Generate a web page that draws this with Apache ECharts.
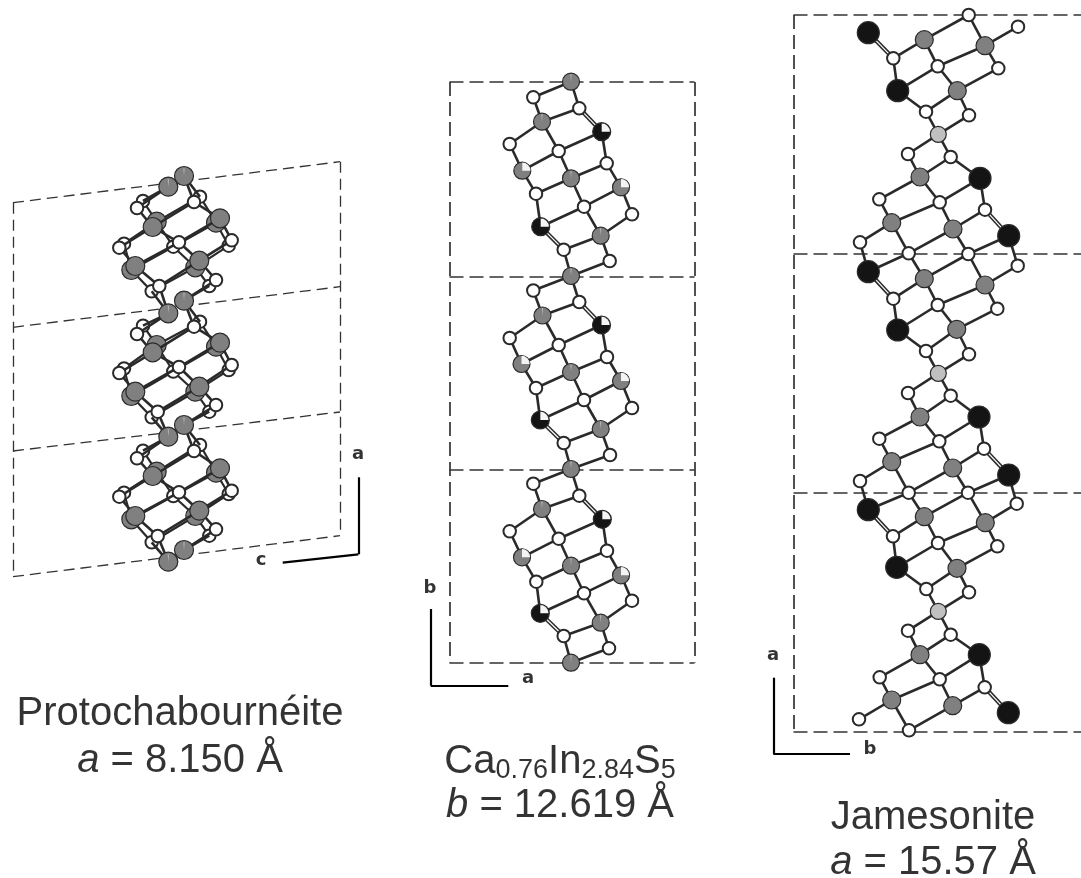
<!DOCTYPE html>
<html><head><meta charset="utf-8">
<style>html,body{margin:0;padding:0;background:#fff}#c{width:1081px;height:878px}</style>
<script src="https://cdn.jsdelivr.net/npm/echarts@6/dist/echarts.min.js"></script>
</head><body><div id="c"></div>
<script>
// ---------- Atom positions (one list per repeat) ----------
const protoKinds = ['T','W','W','G','G','W','W','W','G','G','W','W', 'T','W','W','G','G','W','W','W','G','G','W','W'];
const protoCell1 = [[168.3,186.7],[137,208],[194,202],[152.7,227],[220,218.3],[231.7,240.3],[179,242.3],[119.3,247.7],[135.3,266],[199.3,260.7],[216,280],[159.3,286],
  [184,176],[143,201],[200,196.7],[156.7,221.7],[216,222.7],[228.7,245.7],[173.3,246.7],[124,243.7],[131.3,270],[195.3,267.3],[209.3,286],[151.7,291.3]];
const protoCell2 = [[168.3,313.3],[137,334],[194,326.7],[152.7,352.3],[220,342.7],[231.7,365],[179,367],[119.3,373],[135.3,391.7],[199.3,386.7],[216,405],[157.7,411.7],
  [184,300.7],[143,325.7],[200,321.7],[156.7,345],[216,346.7],[228.7,370],[173.3,371.5],[124,368.5],[131.3,396],[195.3,391.7],[209.3,411.7],[151.7,417.3]];
const protoCell3 = [[168.3,436.7],[137,458.3],[194,451],[152.7,476],[220,468.3],[231.7,490.7],[179,492.3],[119.3,496.7],[135.3,516],[199.3,510.7],[216,529.3],[157.7,536],
  [184,425],[143,450.7],[200,445],[156.7,471.7],[216,472.7],[228.7,494],[173.3,496],[124,492.7],[131.3,519.3],[195.3,516],[209.3,535.7],[151.7,542.3]];
const protoEnd = [[168.3,561.7],[184,550]];
const protoLayerBonds = [[3,1],[3,2],[3,7],[3,6],[4,2],[4,5],[4,6],[7,8],[6,8],[6,9],[5,9],[8,11],[9,11],[9,10]];

const midKinds = ['t','W','W','t','HB','W','W','W','HG','t','HG','W','W','W','HB','t','W','W'];
const midCell1 = [[571,81.7],[533.3,97.3],[579.3,108.3],[542,121.7],[601.7,131.7],[509.7,144],[558.7,151],[606.7,163.3],[522.3,170.7],[571,178.3],[621,187.3],[536,193.7],[584,206.7],[632,214.3],[540.7,226.7],[600.7,235.7],[563.7,249.7],[609.7,261]];
const midCell2 = [[571,276],[533.3,290.5],[579.3,302],[542.5,315.5],[601.5,325],[509.7,338],[558.7,345],[607,357],[521.5,364],[571,372],[621,381],[536,388],[584,400],[632,408],[540.3,420],[600.7,429],[563.7,443],[610,455]];
const midCell3 = [[571,469],[533.3,483.7],[579.3,495.7],[542,509],[602.3,519.3],[509.7,531.3],[558.7,538.7],[607,550.7],[522,557.3],[571,565.7],[621,575.3],[536.3,581.7],[584,593.3],[632,600.7],[540.3,613.3],[600.7,622.7],[563.7,636],[609,648.3]];
const midEnd = [[571,662.7]];
const midBonds = [[0,1],[0,2],[1,3],[2,3],[3,5],[3,6],[4,6],[4,7],[5,8],[8,6],[6,9],[9,7],[7,10],[9,11],[8,11],[11,14],[9,12],[10,12],[10,13],[14,12],[12,15],[13,15],[15,16],[15,17]];
const midDouble = [[2,4],[14,16]];
const midLinks = [[16,0],[17,0]];

const jamKinds = ['B','G','W','W','G','W','W','W','B','G','W','W','L','W','W','G','B','W','W','W','G','G','B','W','W'];
const jamCell1 = [[868.3,32.7],[924.3,39.7],[968.7,15],[1018,26.7],[985,45.7],[893.3,58.3],[937.7,66.3],[998.3,68.3],[897.7,90.7],[957.3,90.7],[926,111.7],[969,115.3],[938.3,134.3],[908,154],[950.7,157],[920,177],[980,178.3],[879.3,199.3],[939.7,202.3],[985,209.7],[891.7,222.7],[953,229],[1008.7,235.7],[860,242.3],[908.7,253.3]];
const jamCell2 = [[868.3,271.7],[924.3,278.7],[968.3,254],[1017.7,265.7],[985,285],[893.3,298.7],[937.7,305],[997.3,308.7],[897.7,330],[956.7,329.3],[926,351],[969,354.3],[938.3,373.3],[908,393],[950.7,395.7],[920,417],[979,417],[879.3,438.7],[939.3,441.3],[984,448.7],[891.7,461.7],[952.7,468],[1008.7,475],[860,481],[908.7,492.7]];
const jamCell3 = [[868.3,509.7],[924.3,516.7],[968,492.7],[1016.7,503.7],[985.3,522.7],[893,536.3],[938,543],[997.3,546.3],[896.7,567.3],[957,568.3],[926.3,589],[969,592.3],[938.3,611.3],[908,630.7],[950.7,634.7],[920,654.7],[979.3,654.7],[879.7,677.3],[939.7,679.3],[984.7,687.3],[891.7,700],[952.7,705.7],[1008.3,712.7],[859,719.3],[909,730.3]];
const jamBonds = [[1,2],[4,2],[4,3],[1,5],[1,6],[4,6],[4,7],[5,8],[6,8],[6,9],[7,9],[8,10],[9,10],[9,11],[10,12],[11,12],[12,13],[12,14],[13,15],[14,15],[14,16],[15,17],[15,18],[16,18],[16,19],[17,20],[18,20],[18,21],[19,21],[20,23],[20,24],[21,24]];
const jamDouble = [[0,5],[19,22]];
const jamLinks = [[23,0],[24,0],[24,1],[22,3],[21,2],[22,2]];

// ---------- Unit-cell frames and the axis triads ----------
const protoFrame = [[[13,202.7],[340,161.7]],[[13,327.3],[340,286.7]],[[13,451],[340,412]],[[13,576.7],[340,535.7]],[[13,202.7],[13,576.7]],[[340,161.7],[340,535.7]]];
const midFrame = [[[449.5,82],[694.5,82]],[[449.5,276.5],[694.5,276.5]],[[449.5,470],[694.5,470]],[[449.5,662.5],[694.5,662.5]],[[449.5,82],[449.5,662.5]],[[694.5,82],[694.5,662.5]]];
const jamFrame = [[[793.5,15],[1081,15]],[[793.5,254],[1081,254]],[[793.5,493],[1081,493]],[[793.5,732],[1081,732]],[[793.5,15],[793.5,732]]];
const triads = [[[358.3,477.3],[358.3,554.3],[282.7,562.7]],[[430.7,609],[430.7,685.7],[508.3,685.7]],[[773.3,677.7],[773.3,754],[850,754]]];

// ---------- Text ----------
const axisLetters = [['a',358,454],['c',261,560],['b',430,588],['a',528,678],['a',773,655],['b',870,749]];
const captions = [
  ['Protochabournéite',180,714],
  ['{i|a} = 8.150 Å',180,761],
  ['Ca{s|0.76}In{s|2.84}S{s|5}',560,762],
  ['{i|b} = 12.619 Å',560,806],
  ['Jamesonite',933,818],
  ['{i|a} = 15.57 Å',933,863]
];

// ---------- Assemble ----------
const backBonds=[], frontBonds=[], doubleBonds=[];
const backAtoms=[], atoms=[], whites=[], wedges=[], ticks=[];
const seg=(a,b)=>({coords:[a,b]});
const FILL={G:'#808080',B:'#141414',L:'#c0c0c0',W:'#fff'};
const SIZE={proto:{G:19,W:12.5},mid:{G:17,W:12.5,B:18},jam:{G:18,W:12.5,B:22,L:16}};
function put(p,k,back,panel){
  const base = (k==='T'||k==='t'||k==='HG')?'G':(k==='HB'?'B':k);
  const item={value:[p[0],p[1]],symbolSize:SIZE[panel][base],
    itemStyle:{color:FILL[base],borderWidth:base==='W'?2:1.2}};
  (back?backAtoms:(base==='W'?whites:atoms)).push(item);
  if(k==='T'||k==='t') ticks.push([p[0],p[1]]);
  if(k==='HB'||k==='HG') wedges.push([p[0],p[1]]);
}
// Protochabournéite: front layer 0-11, back layer 12-23
[protoCell1,protoCell2,protoCell3].forEach((c,n,all)=>{
  c.forEach((p,i)=>put(p,protoKinds[i],i>12,'proto'));
  protoLayerBonds.forEach(([a,b])=>{ frontBonds.push(seg(c[a],c[b])); backBonds.push(seg(c[a+12],c[b+12])); });
  frontBonds.push(seg(c[0],c[1]),seg(c[0],c[13]),seg(c[12],c[2]),seg(c[12],c[14]));
  const nx = all[n+1]||null, t1 = nx?nx[0]:protoEnd[0], t2 = nx?nx[12]:protoEnd[1];
  frontBonds.push(seg(c[11],t1),seg(c[23],t1),seg(c[10],t2),seg(c[22],t2));
});
protoEnd.forEach(p=>put(p,'T',false,'proto'));
// Ca0.76In2.84S5
[midCell1,midCell2,midCell3].forEach((c,n,all)=>{
  c.forEach((p,i)=>put(p,midKinds[i],false,'mid'));
  midBonds.forEach(([a,b])=>frontBonds.push(seg(c[a],c[b])));
  midDouble.forEach(([a,b])=>doubleBonds.push(seg(c[a],c[b])));
  const t = all[n+1]?all[n+1][0]:midEnd[0];
  midLinks.forEach(([a])=>frontBonds.push(seg(c[a],t)));
});
midEnd.forEach(p=>put(p,'t',false,'mid'));
// Jamesonite
[jamCell1,jamCell2,jamCell3].forEach((c,n,all)=>{
  c.forEach((p,i)=>put(p,jamKinds[i],false,'jam'));
  jamBonds.forEach(([a,b])=>frontBonds.push(seg(c[a],c[b])));
  jamDouble.forEach(([a,b])=>doubleBonds.push(seg(c[a],c[b])));
  if(all[n+1]) jamLinks.forEach(([a,b])=>frontBonds.push(seg(c[a],all[n+1][b])));
});

const linesSeries=(data,color,width,z,extra)=>Object.assign({type:'lines',coordinateSystem:'cartesian2d',polyline:false,silent:true,z,
  data,lineStyle:{color,width,opacity:1,curveness:0},effect:{show:false}},extra||{});
const dots=(data,z)=>({type:'scatter',silent:true,z,data,symbol:'circle',clip:false,
  itemStyle:{borderColor:'#2a2a2a',opacity:1}});
const dash=(data,w,d)=>linesSeries(data.map(x=>seg(x[0],x[1])),'#333',w,1,{lineStyle:{color:'#333',width:w,opacity:1,type:d}});
const triadData=[]; triads.forEach(t=>{triadData.push(seg(t[0],t[1]),seg(t[1],t[2]));});

const sector=(data,a0,a1,fill,r,z)=>({type:'custom',silent:true,z,clip:false,data,encode:{x:0,y:1},
  renderItem:(p,api)=>{const c=api.coord([api.value(0),api.value(1)]);
    return {type:'sector',shape:{cx:c[0],cy:c[1],r,r0:0,startAngle:a0,endAngle:a1,clockwise:true},style:{fill}};}});

const textFont='"Liberation Sans"';
const captionData=captions.map(c=>({value:[c[1],c[2]],label:{formatter:c[0]}}));
const letterData=axisLetters.map(c=>({value:[c[1],c[2]],label:{formatter:c[0]}}));

const option={
  animation:false,backgroundColor:'#fff',
  grid:{left:0,right:0,top:0,bottom:0,containLabel:false},
  xAxis:{type:'value',min:0,max:1081,show:false},
  yAxis:{type:'value',min:0,max:878,inverse:true,show:false},
  tooltip:{show:false},
  series:[
    dash(protoFrame,1.3,[11,6]),dash(midFrame,1.7,[14,6]),dash(jamFrame,1.7,[14,6]),
    linesSeries(triadData,'#000',2.2,1),
    linesSeries(backBonds,'#2a2a2a',2.2,2),
    dots(backAtoms,3),
    linesSeries(frontBonds,'#2a2a2a',2.6,4),
    linesSeries(doubleBonds,'#2a2a2a',4.2,4),
    linesSeries(doubleBonds,'#ffffff',1.2,4.5),
    dots(atoms,5),
    dots(whites,6),
    sector(wedges,-Math.PI/2,0,'#f4f4f4',8.2,7),
    sector(ticks,-Math.PI/2-0.07,-Math.PI/2+0.07,'#c4c4c4',7.5,7),
    {type:'scatter',silent:true,z:9,symbolSize:0,data:captionData,clip:false,
     label:{show:true,position:'inside',color:'#000',fontFamily:textFont,fontSize:40,align:'center',verticalAlign:'middle',
       rich:{i:{fontStyle:'italic',fontSize:40,fontFamily:textFont,color:'#000'},
             s:{fontSize:27,fontFamily:textFont,color:'#000',verticalAlign:'bottom',padding:[18,0,0,0]}}}},
    {type:'scatter',silent:true,z:9,symbolSize:0,data:letterData,clip:false,
     label:{show:true,position:'inside',color:'#000',fontFamily:'"DejaVu Sans"',fontWeight:'bold',fontSize:18,align:'center',verticalAlign:'middle'}}
  ]
};
echarts.init(document.getElementById('c'),null,{renderer:'canvas'}).setOption(option);
</script></body></html>
